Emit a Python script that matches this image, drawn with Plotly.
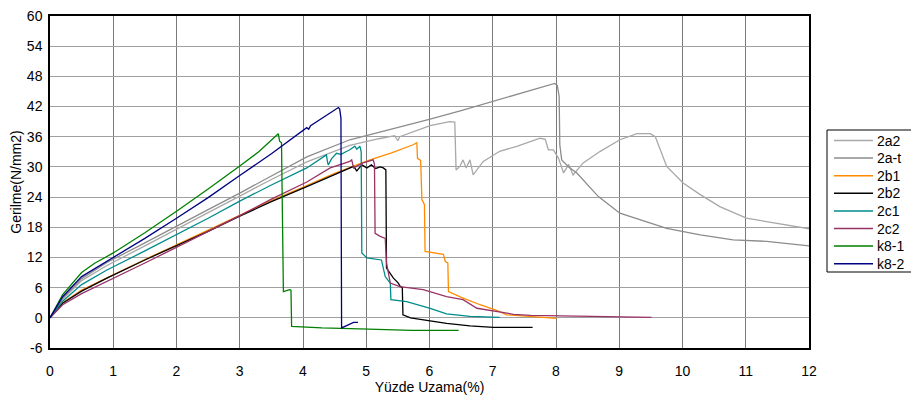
import plotly.graph_objects as go

# ---- data (strain %, stress N/mm2) ----
x_2a2 = [0, 0.2, 0.5, 0.9, 1.5, 1.95, 2.5, 3.0, 3.5, 4.06, 4.74, 5.2, 5.45, 5.5, 5.53, 6.01, 6.32, 6.40, 6.42,
         6.48, 6.53, 6.58, 6.64, 6.69, 6.85, 7.11, 7.38, 7.75, 7.83, 7.88, 7.96, 8.04, 8.12, 8.20, 8.27, 8.43,
         8.70, 9.01, 9.28, 9.49, 9.57, 9.75, 10.01, 10.28, 10.59, 11.01, 11.49, 12.0]
y_2a2 = [0, 3.7, 7.4, 10.4, 14.3, 17.2, 20.9, 24.2, 27.5, 31.0, 34.3, 35.6, 36.2, 35.2, 36.0, 38.2, 39.0, 38.9, 29.4,
         30.1, 31.4, 29.8, 31.4, 28.4, 31.1, 33.1, 34.1, 35.7, 35.5, 33.4, 33.4, 31.7, 28.8, 30.5, 28.4, 30.8,
         33.1, 35.4, 36.6, 36.6, 36.0, 30.1, 26.8, 24.5, 22.1, 19.8, 18.8, 17.7]

x_2at = [0, 0.2, 0.5, 0.9, 1.5, 1.95, 2.5, 3.0, 3.5, 4.06, 4.74, 5.5, 6.01, 6.5, 7.01, 7.6, 7.98, 8.02, 8.05,
         8.06, 8.09, 8.2, 8.33, 8.67, 9.01, 9.33, 9.75, 10.28, 10.8, 11.33, 12.0]
y_2at = [0, 3.9, 7.8, 11.0, 14.9, 17.8, 21.5, 24.8, 28.2, 32.0, 35.4, 37.8, 39.5, 41.2, 43.0, 45.2, 46.6, 46.2, 44.0,
         34.4, 31.4, 30.0, 28.8, 24.1, 20.8, 19.5, 17.8, 16.5, 15.5, 15.2, 14.3]

x_2b1 = [0, 0.2, 0.5, 0.9, 1.5, 1.95, 2.5, 3.0, 3.5, 4.06, 4.5, 5.06, 5.4, 5.74, 5.80, 5.81, 5.86, 5.88, 5.92,
         5.93, 6.06, 6.22, 6.25, 6.29, 6.30, 6.53, 6.8, 7.06, 7.22, 7.6, 8.01]
y_2b1 = [0, 3.0, 5.5, 8.0, 11.6, 14.2, 17.4, 20.4, 23.3, 26.3, 28.7, 31.4, 32.8, 34.4, 34.8, 31.7, 31.3, 23.5, 22.5,
         13.2, 12.9, 12.6, 11.2, 10.9, 5.2, 3.9, 2.6, 1.5, 0.6, 0.3, -0.1]

x_2b2 = [0, 0.2, 0.5, 0.9, 1.5, 1.95, 2.5, 3.0, 3.5, 4.06, 4.5, 4.80, 4.85, 4.93, 5.01, 5.08, 5.15, 5.22, 5.27,
         5.31, 5.32, 5.40, 5.43, 5.50, 5.54, 5.57, 5.58, 5.7, 6.01, 6.27, 6.64, 7.01, 7.63]
y_2b2 = [0, 2.9, 5.3, 7.9, 11.5, 14.0, 17.2, 20.2, 23.1, 26.1, 28.5, 30.1, 29.2, 30.4, 29.8, 30.4, 29.7, 30.0, 29.8,
         29.4, 9.9, 8.5, 7.9, 7.0, 6.2, 6.0, 0.6, 0.0, -0.6, -1.1, -1.6, -1.9, -1.9]

x_2c1 = [0, 0.2, 0.5, 0.9, 1.5, 1.95, 2.5, 3.0, 3.5, 4.06, 4.37, 4.39, 4.40, 4.45, 4.53, 4.60, 4.74, 4.82, 4.85,
         4.9, 4.92, 4.93, 5.01, 5.24, 5.30, 5.38, 5.39, 5.64, 6.01, 6.27, 6.64, 7.11]
y_2c1 = [0, 3.3, 6.6, 9.5, 13.3, 16.2, 19.8, 23.2, 26.4, 29.8, 32.4, 30.8, 30.4, 31.6, 32.7, 32.5, 33.4, 34.1, 33.5,
         34.1, 33.0, 12.9, 11.9, 11.5, 8.2, 6.9, 3.6, 3.2, 1.9, 0.8, 0.3, 0.1]

x_2c2 = [0, 0.2, 0.5, 0.9, 1.5, 1.95, 2.5, 3.0, 3.5, 4.06, 4.43, 4.74, 4.77, 4.80, 4.95, 5.11, 5.13, 5.14, 5.22,
         5.30, 5.32, 5.38, 5.53, 5.90, 6.27, 6.53, 6.75, 7.06, 7.33, 7.6, 8.64, 9.51]
y_2c2 = [0, 2.6, 4.8, 7.2, 10.9, 13.7, 17.1, 20.3, 23.6, 27.0, 29.8, 31.1, 31.4, 29.8, 30.8, 31.4, 30.5, 16.8, 16.2,
         15.8, 10.9, 6.9, 6.2, 5.6, 4.2, 3.6, 1.9, 1.3, 0.7, 0.5, 0.3, 0.1]

x_k81 = [0, 0.2, 0.5, 0.7, 1.0, 1.5, 2.0, 2.5, 3.0, 3.3, 3.61, 3.63, 3.66, 3.69, 3.79, 3.81, 3.82, 4.30, 4.90,
         5.72, 6.46]
y_k81 = [0, 4.6, 9.0, 10.8, 12.9, 16.9, 21.2, 25.6, 30.2, 33.0, 36.6, 35.1, 34.8, 5.2, 5.6, 5.5, -1.7, -2.0, -2.2,
         -2.5, -2.5]

x_k82 = [0, 0.2, 0.5, 1.0, 1.5, 2.0, 2.5, 3.0, 3.5, 4.06, 4.09, 4.12, 4.56, 4.58, 4.60, 4.61, 4.70, 4.8, 4.87]
y_k82 = [0, 4.2, 8.2, 12.0, 15.8, 19.8, 23.9, 28.3, 32.6, 37.8, 37.5, 38.2, 41.8, 41.5, 39.7, -2.0, -1.5, -0.9, -0.9]

x_ticks = list(range(0, 13))
y_ticks = list(range(-6, 61, 6))

series = [
    ("2a2", x_2a2, y_2a2, "#a8a8a8"),
    ("2a-t", x_2at, y_2at, "#8c8c8c"),
    ("2b1", x_2b1, y_2b1, "#ff8c00"),
    ("2b2", x_2b2, y_2b2, "#000000"),
    ("2c1", x_2c1, y_2c1, "#008b8b"),
    ("2c2", x_2c2, y_2c2, "#993366"),
    ("k8-1", x_k81, y_k81, "#008000"),
    ("k8-2", x_k82, y_k82, "#000080"),
]

FAM = "Liberation Sans, Arial, sans-serif"
font = dict(family=FAM, size=14, color="#000000")

# the page body adds an 8px offset; work in screen pixels and shift
OFF = 8
FW, FH = 919 - OFF, 403 - OFF
L, R, T, B = 50 - OFF, 809 - OFF, 16 - OFF, 348 - OFF   # plot-area edges in figure px
W, H = R - L, B - T
px = lambda v: (v - OFF - L) / W          # screen px -> paper x
py = lambda v: (B - (v - OFF)) / H        # screen px -> paper y

fig = go.Figure()
for name, xs, ys, col in series:
    fig.add_trace(go.Scatter(x=xs, y=ys, mode="lines", name=name, showlegend=False,
                             line=dict(color=col, width=1.3)))

# ---- manual legend (box, line samples, labels) ----
shapes = [dict(type="rect", xref="paper", yref="paper",
               x0=px(827), x1=px(917), y0=py(272), y1=py(130),
               line=dict(color="#000000", width=1), fillcolor="white", layer="above")]
annotations = []
for i, (name, _, _, col) in enumerate(series):
    yc = 140.5 + 17.6 * i
    shapes.append(dict(type="line", xref="paper", yref="paper",
                       x0=px(834), x1=px(873), y0=py(yc), y1=py(yc),
                       line=dict(color=col, width=1.5), layer="above"))
    annotations.append(dict(x=px(875), y=py(yc), xref="paper", yref="paper",
                            text=name, showarrow=False, xanchor="left", yanchor="middle",
                            font=font))

fig.update_layout(
    width=FW, height=FH,
    margin=dict(l=L, r=FW - R, t=T, b=FH - B, autoexpand=False),
    paper_bgcolor="white", plot_bgcolor="white",
    font=font,
    showlegend=False,
    shapes=shapes, annotations=annotations,
)
fig.update_xaxes(range=[0, 12], tickvals=x_ticks, ticktext=[str(v) for v in x_ticks],
                 showgrid=True, gridcolor="#7a7a7a", gridwidth=1,
                 showline=True, linecolor="#000000", linewidth=1.5, mirror=True,
                 ticks="outside", ticklen=9, tickcolor="rgba(0,0,0,0)",
                 zeroline=False, automargin=False, ticklabeloverflow="allow",
                 title=dict(text="Yüzde Uzama(%)", font=font, standoff=3))
fig.update_yaxes(range=[-6, 60], tickvals=y_ticks, ticktext=[str(v) for v in y_ticks],
                 showgrid=True, gridcolor="#a0a0a0", gridwidth=1,
                 showline=True, linecolor="#000000", linewidth=1.5, mirror=True,
                 ticks="outside", ticklen=3, tickcolor="rgba(0,0,0,0)",
                 zeroline=False, automargin=False, ticklabeloverflow="allow",
                 title=dict(text="Gerilme(N/mm2)", font=font, standoff=3))

fig.write_html("out.html")
